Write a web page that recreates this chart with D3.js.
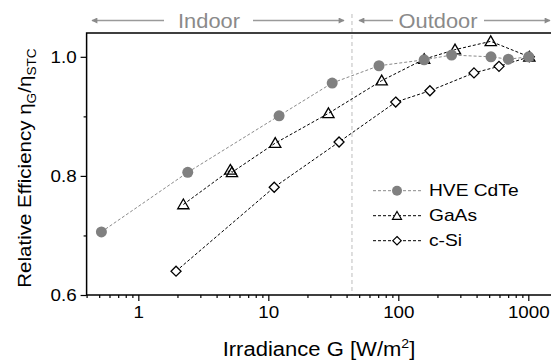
<!DOCTYPE html>
<html><head><meta charset="utf-8">
<script src="https://cdn.jsdelivr.net/npm/d3@7"></script>
<style>
body{margin:0;background:#fff;}
text{font-family:Arial,"Liberation Sans",sans-serif;}
</style></head>
<body><svg id="c" width="551" height="363"></svg>
<script>
// Data
const cdteG   = [0.52, 2.4, 12.1, 31, 71, 158, 257, 516, 702, 1007];
const cdteEff = [0.706, 0.806, 0.901, 0.956, 0.985, 0.995, 1.003, 1.000, 0.996, 1.000];
const gaasG   = [2.22, 5.1, 5.25, 11.3, 29, 74.5, 158, 273, 514, 1018];
const gaasEff = [0.752, 0.810, 0.806, 0.855, 0.905, 0.960, 0.996, 1.012, 1.026, 1.000];
const csiG    = [1.95, 11.1, 35, 95.5, 175, 382, 595, 1018];
const csiEff  = [0.640, 0.781, 0.857, 0.924, 0.943, 0.973, 0.984, 1.000];
const seriesNames = ["HVE CdTe", "GaAs", "c-Si"];
const xTicks = [1, 10, 100, 1000];
const yTicks = [0.6, 0.8, 1.0];
const regionLabels = ["Indoor", "Outdoor"];
const boundaryG = 44;

const svg = d3.select("#c");
const x = d3.scaleLog().domain([0.4, 1500]).range([86.6, 551.2]);
const y = d3.scaleLinear().domain([0.6, 1.04]).range([295, 33]);
const X0 = 86.6, X1 = 553, Y0 = 295, Y1 = 33;

// helper: stretched text
function stext(parent, tx, ty, str, size, sx, anchor, fill) {
  const g = parent.append("g").attr("transform", `translate(${tx},${ty}) scale(${sx},1)`);
  const t = g.append("text").attr("text-anchor", anchor || "start").attr("font-size", size).attr("fill", fill || "#000");
  if (str !== null) t.text(str);
  return t;
}

// boundary dashed line
svg.append("line").attr("x1", x(boundaryG)).attr("x2", x(boundaryG))
  .attr("y1", 14).attr("y2", Y0).attr("stroke", "#c8c8c8").attr("stroke-width", 1.2)
  .attr("stroke-dasharray", "4,3");

// x axis
const minor = [];
for (let d = -1; d <= 3; d++) for (let k = 1; k <= 9; k++) { const v = k * Math.pow(10, d); if (v >= 0.4 && v <= 1500) minor.push(v); }
const xAxisMinor = d3.axisBottom(x).tickValues(minor.filter(v => !xTicks.includes(v))).tickSize(3).tickFormat("");
const xAxis = d3.axisBottom(x).tickValues(xTicks).tickSize(6).tickPadding(5).tickFormat(d3.format("d"));
const gxm = svg.append("g").attr("transform", `translate(0,${Y0})`).call(xAxisMinor);
const gx = svg.append("g").attr("transform", `translate(0,${Y0})`).call(xAxis);
[gx, gxm].forEach(g => { g.select(".domain").remove(); g.selectAll("line").attr("stroke", "#000").attr("stroke-width", 1.2); });
gx.selectAll("text").attr("font-size", 16.5).attr("fill", "#000").attr("transform", "scale(1.14,1)");

// y axis
const yAxisMinor = d3.axisLeft(y).tickValues([0.7, 0.9]).tickSize(3).tickFormat("");
const yAxis = d3.axisLeft(y).tickValues(yTicks).tickSize(6).tickPadding(4).tickFormat(d3.format(".1f"));
const gym = svg.append("g").attr("transform", `translate(${X0},0)`).call(yAxisMinor);
const gy = svg.append("g").attr("transform", `translate(${X0},0)`).call(yAxis);
[gy, gym].forEach(g => { g.select(".domain").remove(); g.selectAll("line").attr("stroke", "#000").attr("stroke-width", 1.2); });
gy.selectAll("text").attr("font-size", 16.5).attr("fill", "#000").attr("x", -10 / 1.14).attr("transform", "scale(1.14,1)");

// frame
svg.append("path").attr("d", `M${X1},${Y1}H${X0}V${Y0}H${X1}`).attr("fill", "none")
  .attr("stroke", "#000").attr("stroke-width", 1.5);

// series
const line = d3.line().x(d => x(d[0])).y(d => y(d[1]));
const cdte = cdteG.map((g, i) => [g, cdteEff[i]]);
const gaas = gaasG.map((g, i) => [g, gaasEff[i]]);
const csi = csiG.map((g, i) => [g, csiEff[i]]);

svg.append("path").datum(cdte).attr("d", line).attr("fill", "none").attr("stroke", "#8a8a8a").attr("stroke-width", 1).attr("stroke-dasharray", "3,2");
svg.append("path").datum(gaas).attr("d", line).attr("fill", "none").attr("stroke", "#000").attr("stroke-width", 1).attr("stroke-dasharray", "3,2");
svg.append("path").datum(csi).attr("d", line).attr("fill", "none").attr("stroke", "#000").attr("stroke-width", 1).attr("stroke-dasharray", "3,2");

const tri = d3.symbol().type(d3.symbolTriangle).size(55);
const dia = s => `M0,${-s}L${s},0L0,${s}L${-s},0Z`;

svg.append("g").selectAll("path").data(csi).join("path")
  .attr("transform", d => `translate(${x(d[0])},${y(d[1])})`).attr("d", dia(5))
  .attr("fill", "#fff").attr("stroke", "#000").attr("stroke-width", 1.3);
svg.append("g").selectAll("path").data(gaas).join("path")
  .attr("transform", d => `translate(${x(d[0])},${y(d[1]) + 1})`).attr("d", tri())
  .attr("fill", "none").attr("stroke", "#000").attr("stroke-width", 1.3);
svg.append("g").selectAll("circle").data(cdte).join("circle")
  .attr("cx", d => x(d[0])).attr("cy", d => y(d[1])).attr("r", 5.5).attr("fill", "#808080");

// legend
const lg = svg.append("g");
const rows = [190.7, 215.7, 240.7];
seriesNames.forEach((n, i) => {
  const ly = rows[i];
  lg.append("line").attr("x1", 373).attr("x2", 422).attr("y1", ly).attr("y2", ly)
    .attr("stroke", i === 0 ? "#8a8a8a" : "#000").attr("stroke-width", 1).attr("stroke-dasharray", "3,2");
  if (i === 0) lg.append("circle").attr("cx", 397).attr("cy", ly).attr("r", 5).attr("fill", "#808080");
  if (i === 1) lg.append("path").attr("transform", `translate(397,${ly + 1})`).attr("d", d3.symbol().type(d3.symbolTriangle).size(35)())
    .attr("fill", "#fff").attr("stroke", "#000").attr("stroke-width", 1.2);
  if (i === 2) lg.append("path").attr("transform", `translate(397,${ly})`).attr("d", dia(4.2))
    .attr("fill", "#fff").attr("stroke", "#000").attr("stroke-width", 1.2);
  stext(lg, 429, ly + 5.7, n, 16, 1.2, "start");
});

// region labels with arrows
const defs = svg.append("defs");
defs.append("marker").attr("id", "ah").attr("viewBox", "0 0 10 10").attr("refX", 9).attr("refY", 5)
  .attr("markerWidth", 9).attr("markerHeight", 6).attr("markerUnits", "userSpaceOnUse").attr("orient", "auto")
  .append("path").attr("d", "M0,0L10,5L0,10Z").attr("fill", "#8a8a8a");
const ay = 20.5;
const arrow = (xa, xb) => svg.append("line").attr("x1", xa).attr("x2", xb).attr("y1", ay).attr("y2", ay)
  .attr("stroke", "#9a9a9a").attr("stroke-width", 1.5).attr("marker-end", "url(#ah)");
arrow(164, 92); arrow(253, 344); arrow(393, 359); arrow(484, 550);
stext(svg, 209, 27.5, regionLabels[0], 19.5, 1.12, "middle", "#8a8a8a");
stext(svg, 438, 27.5, regionLabels[1], 19.5, 1.12, "middle", "#8a8a8a");

// axis titles
const xt = stext(svg, 319, 356, null, 19.5, 1.13, "middle");
xt.append("tspan").text("Irradiance G [W/m");
xt.append("tspan").attr("font-size", 12.5).attr("dy", -8).text("2");
xt.append("tspan").attr("dy", 8).text("]");

const yt = svg.append("g").attr("transform", "translate(31,168) rotate(-90) scale(1.14,1)")
  .append("text").attr("text-anchor", "middle").attr("font-size", 18).attr("fill", "#000");
yt.append("tspan").text("Relative Efficiency η");
yt.append("tspan").attr("font-size", 12).attr("dy", 5).text("G");
yt.append("tspan").attr("dy", -5).text("/η");
yt.append("tspan").attr("font-size", 12).attr("dy", 5).text("STC");
</script></body></html>
